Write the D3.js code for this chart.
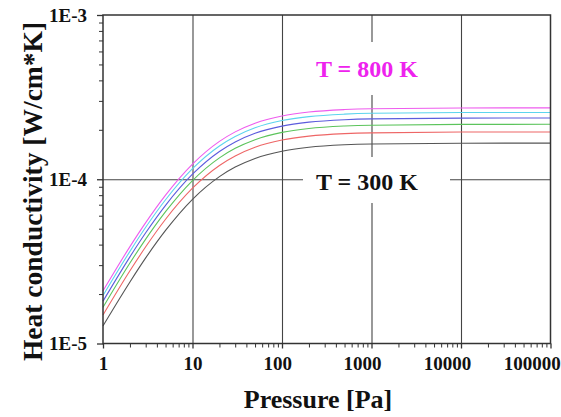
<!DOCTYPE html>
<html>
<head>
<meta charset="utf-8">
<script src="https://cdn.jsdelivr.net/npm/d3@7"></script>
<style>
  html, body { margin: 0; padding: 0; background: #fff; }
  svg { display: block; }
  text { font-family: "Liberation Serif", "Times New Roman", serif; font-weight: bold; }
</style>
</head>
<body>
<svg id="chart" width="561" height="417"></svg>
<script>
// Pressure values (Pa) at which conductivity was sampled
const pressure = [1, 2, 3, 5, 10, 20, 30, 50, 100, 200, 500, 1000, 10000, 100000];

// Heat conductivity (W/cm*K) for each temperature, 800 K down to 300 K
const k800 = [2.09e-5, 3.89e-5, 5.44e-5, 8.00e-5, 1.236e-4, 1.700e-4, 1.943e-4, 2.194e-4, 2.429e-4, 2.566e-4, 2.656e-4, 2.688e-4, 2.717e-4, 2.720e-4];
const k700 = [1.96e-5, 3.64e-5, 5.10e-5, 7.50e-5, 1.159e-4, 1.594e-4, 1.821e-4, 2.057e-4, 2.277e-4, 2.406e-4, 2.490e-4, 2.520e-4, 2.547e-4, 2.550e-4];
const k600 = [1.81e-5, 3.37e-5, 4.72e-5, 6.94e-5, 1.073e-4, 1.475e-4, 1.686e-4, 1.903e-4, 2.107e-4, 2.226e-4, 2.305e-4, 2.332e-4, 2.357e-4, 2.360e-4];
const k500 = [1.66e-5, 3.09e-5, 4.32e-5, 6.35e-5, 9.82e-5, 1.350e-4, 1.543e-4, 1.742e-4, 1.929e-4, 2.038e-4, 2.109e-4, 2.134e-4, 2.157e-4, 2.160e-4];
const k400 = [1.49e-5, 2.77e-5, 3.88e-5, 5.71e-5, 8.82e-5, 1.213e-4, 1.386e-4, 1.565e-4, 1.732e-4, 1.830e-4, 1.895e-4, 1.917e-4, 1.938e-4, 1.940e-4];
const k300 = [1.28e-5, 2.37e-5, 3.32e-5, 4.88e-5, 7.55e-5, 1.038e-4, 1.186e-4, 1.339e-4, 1.482e-4, 1.566e-4, 1.621e-4, 1.640e-4, 1.658e-4, 1.660e-4];

const seriesList = [k300, k400, k500, k600, k700, k800];
const seriesColors = ["#555555", "#ee6666", "#5cc45c", "#5c5cdd", "#5cd4ee", "#ee5cee"];

// Axis ticks
const xTicks = [1, 10, 100, 1000, 10000, 100000];
const xTickLabels = ["1", "10", "100", "1000", "10000", "100000"];
const yTicks = [1e-5, 1e-4, 1e-3];
const yTickLabels = ["1E-5", "1E-4", "1E-3"];

const svg = d3.select("#chart");
const margin = { left: 103, top: 15, right: 10.5, bottom: 73.5 };
const W = 561 - margin.left - margin.right;
const H = 417 - margin.top - margin.bottom;

const x = d3.scaleLog().domain([1, 100000]).range([0, W]);
const y = d3.scaleLog().domain([1e-5, 1e-3]).range([H, 0]);

const g = svg.append("g").attr("transform", `translate(${margin.left},${margin.top})`);

// minor tick positions (2..9 in every decade)
const xMinor = [];
for (let d = 1; d < 100000; d *= 10) for (let m = 2; m <= 9; m++) xMinor.push(d * m);
const yMinor = [];
for (let d = 1e-5; d < 1e-3 * 0.99; d *= 10) for (let m = 2; m <= 9; m++) yMinor.push(d * m);

// gridlines at inner major ticks
g.append("g")
  .attr("transform", `translate(0,${H})`)
  .call(d3.axisBottom(x).tickValues(xTicks.slice(1, -1)).tickSize(-H).tickFormat(""))
  .call(s => s.select(".domain").remove())
  .selectAll("line").attr("stroke", "#444").attr("stroke-width", 1.1);
g.append("g")
  .call(d3.axisLeft(y).tickValues(yTicks.slice(1, -1)).tickSize(-W).tickFormat(""))
  .call(s => s.select(".domain").remove())
  .selectAll("line").attr("stroke", "#444").attr("stroke-width", 1.1);

// text annotations on white backing boxes
const notes = [
  { text: "T = 800 K", color: "#ee22ee", cy: 68.5 - margin.top, box: [42, 95] },
  { text: "T = 300 K", color: "#111111", cy: 182 - margin.top, box: [157, 203] }
];
notes.forEach(n => {
  g.append("rect")
    .attr("x", 303 - margin.left).attr("y", n.box[0] - margin.top)
    .attr("width", 147).attr("height", n.box[1] - n.box[0])
    .attr("fill", "#fff");
  g.append("text")
    .attr("x", 367 - margin.left).attr("y", n.cy)
    .attr("dy", "0.35em")
    .attr("text-anchor", "middle")
    .attr("font-size", 24)
    .attr("fill", n.color)
    .text(n.text);
});

// conductivity curves
const line = d3.line()
  .x((d, i) => x(pressure[i]))
  .y(d => y(d))
  .curve(d3.curveMonotoneX);
seriesList.forEach((s, i) => {
  g.append("path")
    .datum(s)
    .attr("d", line)
    .attr("fill", "none")
    .attr("stroke", seriesColors[i])
    .attr("stroke-width", 1.1);
});

// frame
g.append("rect").attr("width", W).attr("height", H)
  .attr("fill", "none").attr("stroke", "#333").attr("stroke-width", 1.5);

// bottom axis: minor ticks, then major ticks with labels
g.append("g").attr("transform", `translate(0,${H})`)
  .call(d3.axisBottom(x).tickValues(xMinor).tickSize(4).tickFormat(""))
  .call(s => s.select(".domain").remove())
  .selectAll("line").attr("stroke", "#333");
const xAxis = g.append("g").attr("transform", `translate(0,${H})`)
  .call(d3.axisBottom(x).tickValues(xTicks).tickSize(5).tickPadding(8)
    .tickFormat((d, i) => xTickLabels[i]));
xAxis.select(".domain").remove();
xAxis.selectAll("line").attr("stroke", "#333").attr("stroke-width", 1.3);
xAxis.selectAll("text")
  .attr("font-size", 19)
  .attr("fill", "#111")
  .attr("dx", d => -Math.max(0, String(d).length - 2) * 4.7);

// left axis: minor ticks, then major ticks with labels
g.append("g")
  .call(d3.axisLeft(y).tickValues(yMinor).tickSize(4).tickFormat(""))
  .call(s => s.select(".domain").remove())
  .selectAll("line").attr("stroke", "#333");
const yAxis = g.append("g")
  .call(d3.axisLeft(y).tickValues(yTicks).tickSize(6).tickPadding(10)
    .tickFormat((d, i) => yTickLabels[i]));
yAxis.select(".domain").remove();
yAxis.selectAll("line").attr("stroke", "#333").attr("stroke-width", 1.3);
yAxis.selectAll("text").attr("font-size", 19).attr("fill", "#111");

// axis titles
svg.append("text")
  .attr("x", 318).attr("y", 408)
  .attr("text-anchor", "middle")
  .attr("font-size", 26)
  .attr("fill", "#111")
  .text("Pressure [Pa]");
svg.append("text")
  .attr("transform", "translate(42,191.5) rotate(-90)")
  .attr("text-anchor", "middle")
  .attr("font-size", 27.5)
  .attr("fill", "#111")
  .text("Heat conductivity [W/cm*K]");
</script>
</body>
</html>
